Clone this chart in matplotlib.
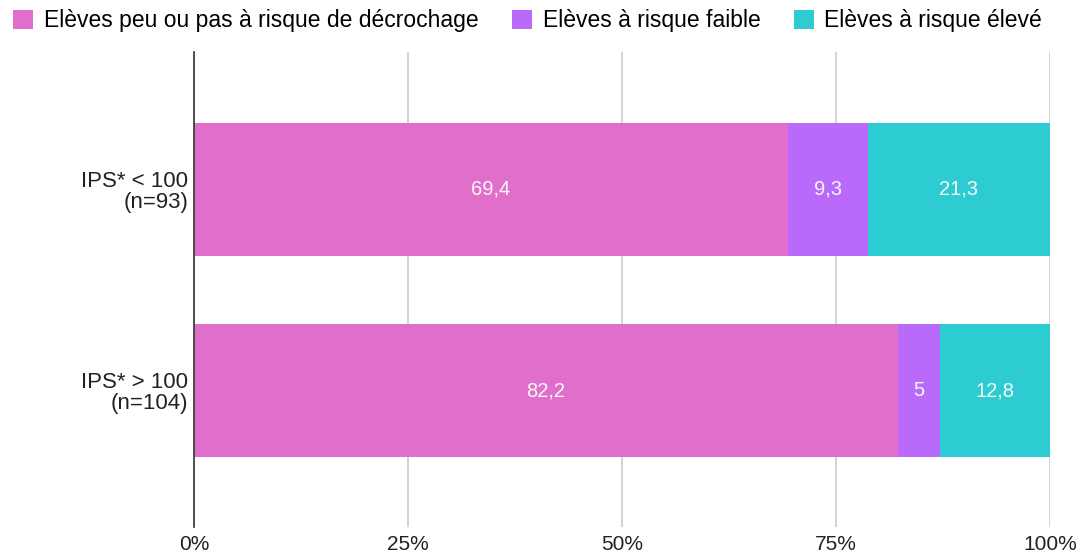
import matplotlib
matplotlib.use("Agg")
import matplotlib.pyplot as plt
from matplotlib.patches import Patch

categories = ["IPS* < 100\n(n=93)", "IPS* > 100\n(n=104)"]
series_names = ["Elèves peu ou pas à risque de décrochage", "Elèves à risque faible", "Elèves à risque élevé"]
peu = [69.4, 82.2]
faible = [9.3, 5.0]
eleve = [21.3, 12.8]
labels_peu = ["69,4", "82,2"]
labels_faible = ["9,3", "5"]
labels_eleve = ["21,3", "12,8"]
xticks = [0, 25, 50, 75, 100]
xticklabels = ["0%", "25%", "50%", "75%", "100%"]
colors = ["#E06ECB", "#B96AFB", "#2DCBD2"]

plt.rcParams['font.family'] = ['Liberation Sans', 'DejaVu Sans']

fig = plt.figure(figsize=(10.81, 5.57), dpi=100)
ax = fig.add_axes([194/1081, 1-527/557, (1050-194)/1081, (527-52)/557])

ypos = list(range(len(categories)))
h = 0.66
lefts = [0]*len(categories)
for vals, labs, col in [(peu, labels_peu, colors[0]), (faible, labels_faible, colors[1]), (eleve, labels_eleve, colors[2])]:
    bars = ax.barh(ypos, vals, left=lefts, height=h, color=col, edgecolor='none', zorder=3)
    for b, lab in zip(bars, labs):
        ax.text(b.get_x()+b.get_width()/2, b.get_y()+b.get_height()/2, lab,
                ha='center', va='center', color='#F8F8F8', fontsize=14.5, zorder=4)
    lefts = [l+v for l, v in zip(lefts, vals)]

ax.set_xlim(0, 100)
ax.set_ylim(1.675, -0.68)
ax.set_xticks(xticks)
ax.set_xticklabels(xticklabels, fontsize=15, color='#222222')
ax.set_yticks(ypos)
ax.set_yticklabels(categories, fontsize=16, color='#222222', ha='right', linespacing=1.0)
ax.tick_params(axis='both', length=0)
ax.tick_params(axis='x', pad=6)
ax.tick_params(axis='y', pad=4)
ax.xaxis.grid(True, color='#CCCCCC', linewidth=1.2, zorder=0)
for s in ['top', 'right', 'bottom']:
    ax.spines[s].set_visible(False)
ax.spines['left'].set_color('#333333')
ax.spines['left'].set_linewidth(1.2)
ax.spines['left'].set_zorder(5)

handles = [Patch(facecolor=c, edgecolor='none') for c in colors]
fig.legend(handles, series_names, loc='upper left', bbox_to_anchor=(-0.003, 1.012), ncol=3,
           frameon=False, fontsize=16.5, handlelength=0.9, handleheight=0.9,
           handletextpad=0.45, columnspacing=1.45, borderaxespad=0.3)

fig.savefig("out.png", dpi=100)
